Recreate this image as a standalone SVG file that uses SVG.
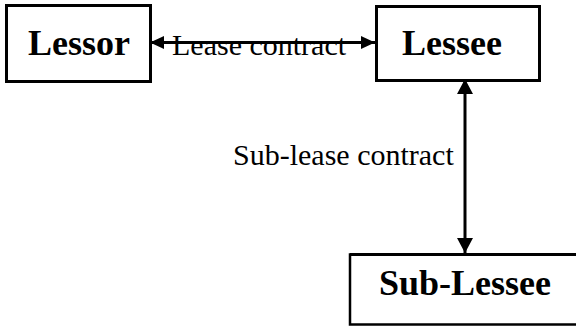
<svg xmlns="http://www.w3.org/2000/svg" width="576" height="328" viewBox="0 0 576 328">
<style>
.box{fill:#fff;stroke:#000;stroke-width:3}
.lbl{font-family:"Liberation Serif","Times New Roman",serif;font-weight:bold;font-size:36px;fill:#000}
.edge{font-family:"Liberation Serif","Times New Roman",serif;font-size:30px;fill:#000}
.conn{stroke:#000;stroke-width:3;fill:none}
</style>
<defs>
<marker id="ah" markerUnits="userSpaceOnUse" markerWidth="14" markerHeight="13" refX="14" refY="6.5" orient="auto-start-reverse" viewBox="0 0 14 13">
<path d="M0,0 L14,6.5 L0,13 z" fill="#000"/>
</marker>
<marker id="av" markerUnits="userSpaceOnUse" markerWidth="15" markerHeight="16" refX="15" refY="8" orient="auto-start-reverse" viewBox="0 0 15 16">
<path d="M0,0 L15,8 L0,16 z" fill="#000"/>
</marker>
</defs>
<g id="lessor">
<rect class="box" x="6.5" y="5.5" width="144" height="76"/>
<text class="lbl" x="28" y="55">Lessor</text>
</g>
<g id="lessee">
<rect class="box" x="376.5" y="6.5" width="163" height="74"/>
<text class="lbl" x="402" y="55">Lessee</text>
</g>
<g id="sublessee">
<rect class="box" x="350" y="254.5" width="250" height="70" style="stroke-width:2.5"/>
<line x1="350" y1="254.5" x2="580" y2="254.5" stroke="#000" stroke-width="3"/>
<text class="lbl" x="379" y="295">Sub-Lessee</text>
</g>
<g id="connectors">
<line class="conn" x1="150" y1="42.5" x2="375" y2="42.5" marker-start="url(#ah)" marker-end="url(#ah)"/>
<text class="edge" x="172" y="55">Lease contract</text>
<line class="conn" x1="465" y1="79" x2="465" y2="253" marker-start="url(#av)" marker-end="url(#av)"/>
<text class="edge" x="233" y="165">Sub-lease contract</text>
</g>
</svg>
